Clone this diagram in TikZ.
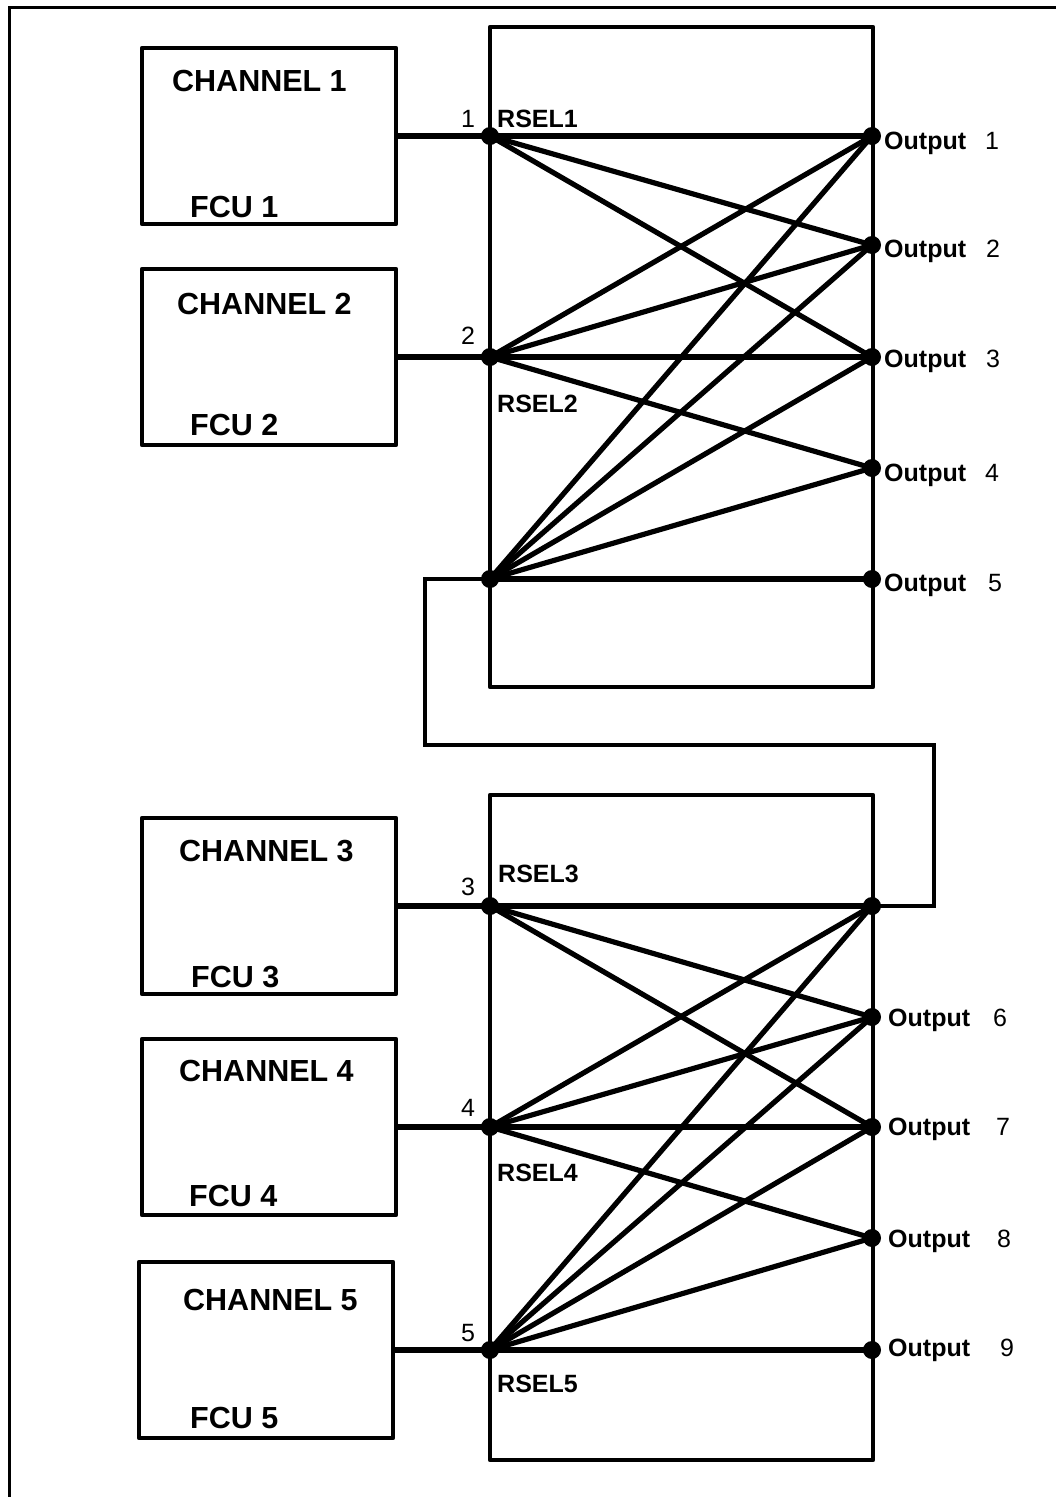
\documentclass[tikz,border=0pt]{standalone}
\usepackage{fontspec}
\setmainfont{Liberation Sans}
\begin{document}
\begin{tikzpicture}[x=1pt,y=-1pt,
  frame/.style={line width=3pt},
  chbox/.style={draw, line width=4.6pt, line join=round, outer sep=0pt, inner sep=0pt,
                minimum width=254pt, minimum height=176pt, anchor=north west},
  selbox/.style={draw, line width=4.4pt, line join=round, outer sep=0pt, inner sep=0pt, anchor=north west},
  wire/.style={line width=5.2pt},
  loopw/.style={line width=4.6pt, line join=miter},
  big/.style={font=\fontsize{30.5}{36}\selectfont\bfseries, inner sep=0pt, anchor=base west},
  lab/.style={font=\fontsize{25}{30}\selectfont\bfseries, inner sep=0pt, anchor=base west},
  num/.style={font=\fontsize{25}{30}\selectfont, inner sep=0pt, anchor=base},
]
\useasboundingbox (0,0) rectangle (1056,1497);
% outer frame (only top and left edges are visible)
\draw[frame] (9,1500) -- (9,7) -- (1060,7);

% selector boxes
\node[selbox, minimum width=383pt, minimum height=660pt] (sel1) at (490,27) {};
\node[selbox, minimum width=383pt, minimum height=665pt] (sel2) at (490,795) {};

% channel boxes
\node[chbox] (ch1) at (142,48) {};
\node[chbox] (ch2) at (142,269) {};
\node[chbox] (ch3) at (142,818) {};
\node[chbox] (ch4) at (142,1039) {};
\node[chbox] (ch5) at (139,1262) {};

\node[big] (c1) at (172,91) {CHANNEL 1};
\node[big] (c2) at (177,314) {CHANNEL 2};
\node[big] (c3) at (179,861) {CHANNEL 3};
\node[big] (c4) at (179,1081) {CHANNEL 4};
\node[big] (c5) at (183,1310) {CHANNEL 5};
\node[big] (f1) at (190,217) {FCU 1};
\node[big] (f2) at (190,435) {FCU 2};
\node[big] (f3) at (191,987) {FCU 3};
\node[big] (f4) at (189,1206) {FCU 4};
\node[big] (f5) at (190,1428) {FCU 5};

% junctions
\coordinate (j1) at (490,136);
\coordinate (j2) at (490,357);
\coordinate (j3) at (490,579);
\coordinate (j4) at (490,906);
\coordinate (j5) at (490,1127);
\coordinate (j6) at (490,1350);
% outputs
\coordinate (o1) at (872,136);
\coordinate (o2) at (872,245);
\coordinate (o3) at (872,357);
\coordinate (o4) at (872,468);
\coordinate (o5) at (872,579);
\coordinate (o0) at (872,906);
\coordinate (o6) at (872,1017);
\coordinate (o7) at (872,1127);
\coordinate (o8) at (872,1238);
\coordinate (o9) at (872,1350);

% channel to selector
\draw[wire] (ch1.east) -- (j1);
\draw[wire] (ch2.east) -- (j2);
\draw[wire] (ch3.east) -- (j4);
\draw[wire] (ch4.east) -- (j5);
\draw[wire] (ch5.east) -- (j6);

% upper crossbar
\draw[wire] (j1) -- (o1);
\draw[wire] (j1) -- (o2);
\draw[wire] (j1) -- (o3);
\draw[wire] (j2) -- (o1);
\draw[wire] (j2) -- (o2);
\draw[wire] (j2) -- (o3);
\draw[wire] (j2) -- (o4);
\draw[wire] (j3) -- (o1);
\draw[wire] (j3) -- (o2);
\draw[wire] (j3) -- (o3);
\draw[wire] (j3) -- (o4);
\draw[wire] (j3) -- (o5);

% lower crossbar
\draw[wire] (j4) -- (o0);
\draw[wire] (j4) -- (o6);
\draw[wire] (j4) -- (o7);
\draw[wire] (j5) -- (o0);
\draw[wire] (j5) -- (o6);
\draw[wire] (j5) -- (o7);
\draw[wire] (j5) -- (o8);
\draw[wire] (j6) -- (o0);
\draw[wire] (j6) -- (o6);
\draw[wire] (j6) -- (o7);
\draw[wire] (j6) -- (o8);
\draw[wire] (j6) -- (o9);

% loop from upper selector to lower selector
\draw[loopw] (j3) -- (425,579) -- (425,745) -- (934,745) -- (934,906) -- (o0);

% dots
\foreach \p in {j1,j2,j3,j4,j5,j6,o0,o1,o2,o3,o4,o5,o6,o7,o8,o9}
  \fill (\p) circle (9pt);

% selector labels
\node[num] (n1) at (468,127) {1};
\node[num] (n2) at (468,344) {2};
\node[num] (n3) at (468,895) {3};
\node[num] (n4) at (468,1116) {4};
\node[num] (n5) at (468,1341) {5};
\node[lab] (r1) at (497,127) {RSEL1};
\node[lab] (r2) at (497,412) {RSEL2};
\node[lab] (r3) at (498,882) {RSEL3};
\node[lab] (r4) at (497,1181) {RSEL4};
\node[lab] (r5) at (497,1392) {RSEL5};

% output labels
\node[lab] (l1) at (884,149) {Output};
\node[lab] (l2) at (884,257) {Output};
\node[lab] (l3) at (884,367) {Output};
\node[lab] (l4) at (884,481) {Output};
\node[lab] (l5) at (884,591) {Output};
\node[num] (m1) at (992,149) {1};
\node[num] (m2) at (993,257) {2};
\node[num] (m3) at (993,367) {3};
\node[num] (m4) at (992,481) {4};
\node[num] (m5) at (995,591) {5};
\node[lab] (l6) at (888,1026) {Output};
\node[lab] (l7) at (888,1135) {Output};
\node[lab] (l8) at (888,1247) {Output};
\node[lab] (l9) at (888,1356) {Output};
\node[num] (m6) at (1000,1026) {6};
\node[num] (m7) at (1003,1135) {7};
\node[num] (m8) at (1004,1247) {8};
\node[num] (m9) at (1007,1356) {9};
\end{tikzpicture}
\end{document}
